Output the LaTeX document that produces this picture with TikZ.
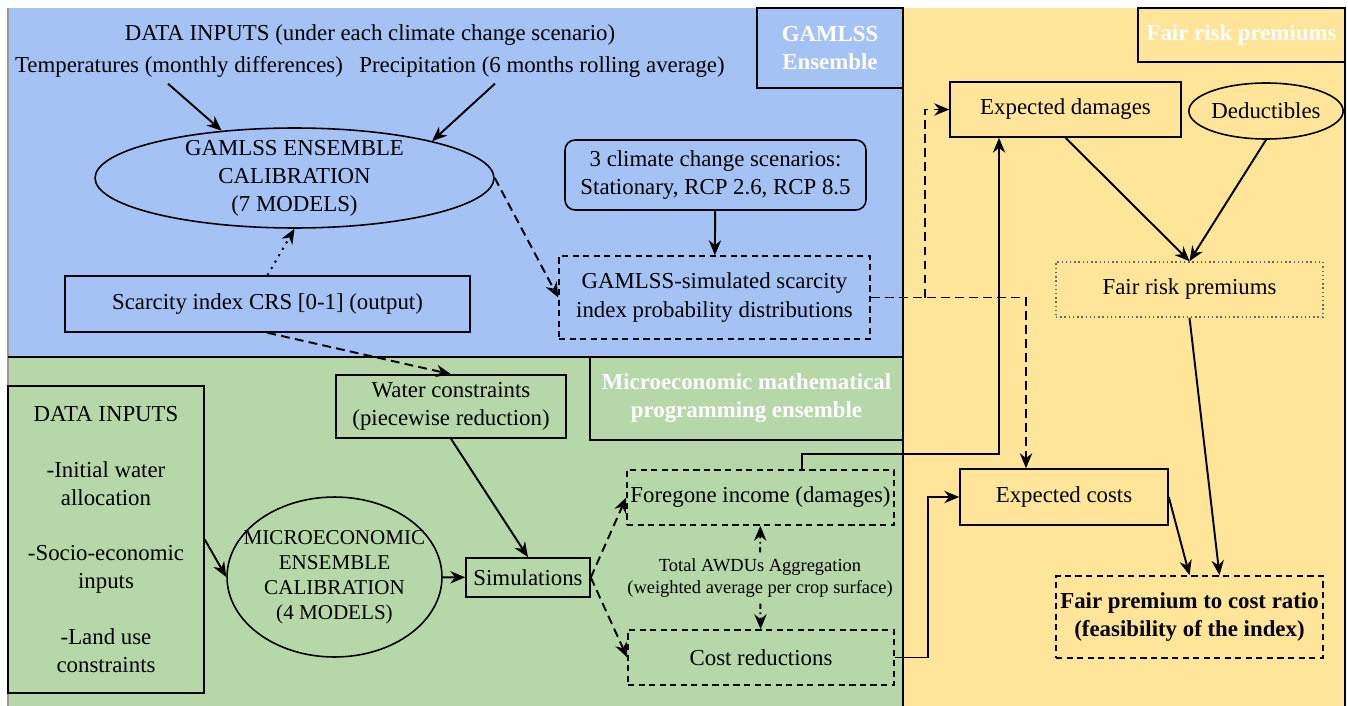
\documentclass[tikz,border=0pt]{standalone}
\usepackage{fontspec}
\setmainfont{Liberation Serif}
\newfontfamily\diagfont{Liberation Serif}
\usetikzlibrary{positioning,arrows.meta,shapes.geometric}
\definecolor{gamlssblue}{HTML}{A4C2F4}
\definecolor{microgreen}{HTML}{B6D7A8}
\definecolor{premyellow}{HTML}{FFE599}

\begin{document}
\begin{tikzpicture}[x=0.02cm,y=-0.02cm,font=\diagfont\fontsize{13}{16}\selectfont,
  box/.style={draw,line width=0.9pt,inner sep=2pt,align=center},
  dbox/.style={box,dash pattern=on 3.5pt off 2.5pt},
  arr/.style={line width=1.1pt,-{Stealth[length=8.5pt,width=7pt]}},
  darr/.style={arr,dash pattern=on 5pt off 3pt},
  dotarr/.style={arr,dash pattern=on 1.2pt off 3pt},
  dotdasharr/.style={arr,dash pattern=on 3pt off 2pt on 1pt off 2pt},
  lbl/.style={draw,line width=0.8pt,text=white,font=\diagfont\fontsize{13}{16}\selectfont\bfseries,align=center}]
\useasboundingbox (0,0) rectangle (1348,706);
% panels
\fill[gamlssblue] (8,8) rectangle (903,357);
\fill[microgreen] (8,357) rectangle (903,706);
\fill[premyellow] (903,8) rectangle (1345,706);
\draw[black!40,line width=0.6pt] (8,8) -- (8,706);
\draw[line width=0.8pt] (8,357) -- (903,357) (903,8) -- (903,706) (1345,8) -- (1345,706);
\node[lbl,minimum width=2.92cm,minimum height=1.6cm] (gamlsslbl) at (830,48) {GAMLSS\\Ensemble};
\node[lbl,minimum width=4.14cm,minimum height=1.08cm] (fairlbl) at (1241.5,35) {Fair risk premiums};
\node[lbl,minimum width=6.26cm,minimum height=1.66cm] (microlbl) at (746.5,398.5) {Microeconomic mathematical\\programming ensemble};
% GAMLSS ensemble
\node (inputs) at (370,35) {DATA INPUTS (under each climate change scenario)};
\node (temps) at (179,67) {Temperatures (monthly differences)};
\node (precip) at (542,67) {Precipitation (6 months rolling average)};
\node[box,ellipse,inner xsep=0pt,inner ysep=-0.25cm,minimum width=7.98cm,minimum height=2cm] (gamlsscal) at (294.5,178) {GAMLSS ENSEMBLE\\CALIBRATION\\(7 MODELS)};
\node[box,rounded corners=0.2cm,minimum width=6.02cm,minimum height=1.4cm] (scen) at (715.5,175) {3 climate change scenarios:\\Stationary, RCP 2.6, RCP 8.5};
\node[dbox,minimum width=6.22cm,minimum height=1.66cm] (simdist) at (714.5,297.5) {GAMLSS-simulated scarcity\\index probability distributions};
\node[box,minimum width=8.1cm,minimum height=1.12cm] (scarcity) at (267.5,304) {Scarcity index CRS [0-1] (output)};
% microeconomic ensemble
\node[box,minimum width=4.6cm,minimum height=1.26cm] (water) at (451,406.5) {Water constraints\\(piecewise reduction)};
\node[box,minimum width=3.92cm,minimum height=6.14cm] (datain) at (106,539.5) {DATA INPUTS\\[1.2em]-Initial water\\allocation\\[1.2em]-Socio-economic\\inputs\\[1.2em]-Land use\\constraints};
\node[box,ellipse,inner xsep=-0.4cm,inner ysep=-0.3cm,minimum width=4.3cm,minimum height=3.2cm,font=\diagfont\fontsize{12}{14.2}\selectfont] (microcal) at (334.5,577) {MICROECONOMIC\\ENSEMBLE\\CALIBRATION\\(4 MODELS)};
\node[box,minimum width=2.48cm,minimum height=0.78cm] (sims) at (528,577.5) {Simulations};
\node[dbox,minimum width=5.34cm,minimum height=1.1cm] (foregone) at (760.5,497.5) {Foregone income (damages)};
\node[dbox,minimum width=5.32cm,minimum height=1.1cm] (costred) at (761,657.5) {Cost reductions};
\node[align=center,font=\diagfont\fontsize{10.5}{12.6}\selectfont] (aggr) at (760,578) {Total AWDUs Aggregation\\(weighted average per crop surface)};
% fair risk premiums
\node[box,minimum width=4.62cm,minimum height=1.1cm] (expdam) at (1065.5,109.5) {Expected damages};
\node[box,ellipse,inner sep=0pt,minimum width=2.94cm,minimum height=1.12cm] (deduct) at (1266,111) {Deductibles};
\node[box,draw=black!60,dash pattern=on 0.8pt off 1.6pt,minimum width=5.34cm,minimum height=1.1cm] (fairrisk) at (1189.5,289.5) {Fair risk premiums};
\node[box,minimum width=4.16cm,minimum height=1.12cm] (expcost) at (1064,497) {Expected costs};
\node[dbox,minimum width=5.34cm,minimum height=1.64cm,font=\diagfont\fontsize{13}{16}\selectfont\bfseries] (ratio) at (1189.5,617) {Fair premium to cost ratio\\(feasibility of the index)};
% connectors
\draw[arr] ([xshift=-0.22cm]temps.south) -- (gamlsscal.147);
\draw[arr] ([xshift=-0.94cm]precip.south) -- (gamlsscal.15);
\draw[arr] (scen) -- (simdist);
\draw[darr] (gamlsscal.east) -- (simdist.west);
\draw[dotarr] (scarcity.north) -- (gamlsscal.south);
\draw[darr] (scarcity.south) -- (water.north);
\draw[arr] (datain.east) -- (microcal.west);
\draw[arr] (microcal) -- (sims);
\draw[arr] (water.south) -- (sims.north);
\draw[darr] (sims.east) -- (foregone.west);
\draw[darr] (sims.east) -- (costred.west);
\draw[dotdasharr] (aggr) -- (foregone);
\draw[dotdasharr] (aggr) -- (costred);
\draw[arr] ([xshift=0.83cm]foregone.north) -- ++(0,-15) -| ([xshift=-1.33cm]expdam.south);
\draw[darr] (simdist.east) -| ([xshift=-0.76cm]expcost.north);
\draw[darr] ([xshift=1.08cm]simdist.east) |- (expdam.west);
\draw[arr] (costred.east) -- ++(33,0) |- (expcost.west);
\draw[arr] (expcost.east) -- (ratio.north);
\draw[arr] (fairrisk.south) -- ([xshift=0.6cm]ratio.north);
\draw[arr] (expdam.south) -- (fairrisk.north);
\draw[arr] (deduct.south) -- (fairrisk.north);
\end{tikzpicture}
\end{document}
